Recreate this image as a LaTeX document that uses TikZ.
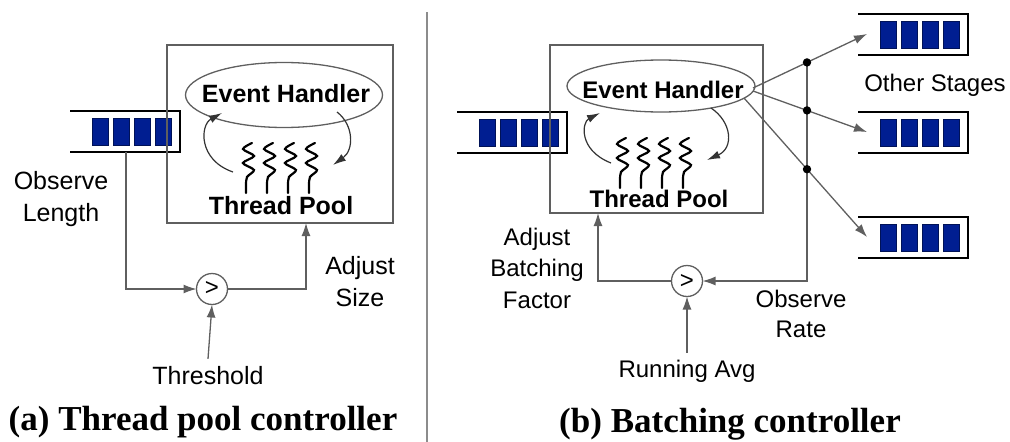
\documentclass[tikz,border=0pt]{standalone}
\usepackage{fontspec}
\setmainfont{Liberation Sans}
\newfontfamily\capfont{Liberation Serif}
\usetikzlibrary{arrows.meta,shapes.geometric,calc}
\definecolor{cellblue}{RGB}{0,30,145}
\definecolor{rulegray}{RGB}{95,95,95}

% one wavy thread: #1 = centre x, #2 = top y
\newcommand\threadline[2]{%
  \draw[threadln] plot[smooth, tension=0.5] coordinates {
    ({#1+3},{#2}) ({#1-6},{#2+6}) ({#1+5},{#2+13}) ({#1-6},{#2+20})
    ({#1+5},{#2+27}) ({#1-2},{#2+34}) ({#1-3},{#2+42}) ({#1-3},{#2+50})};}

\tikzset{
  every node/.style={inner sep=0pt, outer sep=0pt},
  lbl/.style={font=\fontsize{25}{32}\selectfont, align=center, anchor=base},
  lblb/.style={font=\fontsize{24}{31}\selectfont, align=center, anchor=base},
  boldtxt/.style={font=\bfseries\fontsize{25}{30}\selectfont},
  boldtxtb/.style={font=\bfseries\fontsize{24}{29}\selectfont},
  stagebox/.style={draw=rulegray, line width=1.3pt},
  handler/.style={ellipse, draw=rulegray, line width=1.3pt},
  cmp/.style={circle, draw=rulegray, line width=1.3pt, minimum size=31pt,
              font=\fontsize{24}{24}\selectfont},
  conn/.style={draw=rulegray, line width=1.3pt},
  arr/.style={-{Latex[length=13pt,width=9pt]}},
  threadln/.style={line width=2.2pt, line cap=round},
  loopar/.style={line width=1.2pt, draw=black!80, -{Latex[length=13pt,width=8pt]}},
  qline/.style={line width=2.2pt},
  qcell/.style={fill=cellblue, draw=cellblue!60!black, line width=0.8pt},
  captxt/.style={font=\capfont\bfseries\fontsize{35}{40}\selectfont, anchor=base},
  divider/.style={draw=black!45, line width=2pt},
  evq/.pic={
    \draw[qline] (0,0) -- (110,0) -- (110,41) -- (0,41);
    \foreach \i in {0,1,2,3}
      \filldraw[qcell] ({22+21*\i},7) rectangle ++(16,27);
    \coordinate (-in) at (9,20);
    \coordinate (-bot) at (56,41);
  }
}

\begin{document}
\begin{tikzpicture}[x=1pt,y=-1pt]
\useasboundingbox (0,0) rectangle (1010,442);

% ---------------- (a) thread pool controller ----------------
\pic (qa) at (70,111) {evq};
\node[stagebox, minimum width=226pt, minimum height=178pt] (boxa) at (280,134) {};
\node[handler, minimum width=197pt, minimum height=65pt] (eha) at (284,95) {};
\node[boldtxt] (ehat) at (286,94) {Event Handler};
\foreach \c in {249,270,291,312} {\threadline{\c}{143}}
\node[boldtxt] (tpa) at (281,206) {Thread Pool};

\coordinate (la1) at (233,172);
\coordinate (la2) at (222,113);
\coordinate (ra1) at (337,112);
\coordinate (ra2) at (333,165);
\draw[loopar] (la1) .. controls (198,160) and (200,125) .. (la2);
\draw[loopar] (ra1) .. controls (354,125) and (354,150) .. (ra2);

\node[cmp] (cmpa) at (212,289) {>};
\node[lbl, inner ysep=7pt] (thr) at (208,384) {Threshold};
\coordinate (adja) at (306,223);
\draw[conn, arr] (qa-bot) |- (cmpa.west);
\draw[conn, arr] (cmpa.east) -| (adja);
\draw[conn, arr] (thr.north) -- (cmpa.south);

\node[lbl] (obsl) at (61,221) {Observe\\Length};
\node[lbl] (adjs) at (360,306) {Adjust\\Size};
\node[captxt] (capa) at (203,430) {(a) Thread pool controller};

% separator
\coordinate (sep1) at (427,12);
\coordinate (sep2) at (427,442);
\draw[divider] (sep1) -- (sep2);

% ---------------- (b) batching controller ----------------
\pic (qb) at (457,112) {evq};
\node[stagebox, minimum width=213pt, minimum height=168pt] (boxb) at (656.5,129) {};
\node[handler, minimum width=188pt, minimum height=52pt] (ehb) at (661,86) {};
\node[boldtxtb] (ehbt) at (663,90) {Event Handler};
\foreach \c in {623,644,665,686} {\threadline{\c}{138}}
\node[boldtxtb] (tpb) at (659,199) {Thread Pool};

\coordinate (lb1) at (611,163);
\coordinate (lb2) at (600,113);
\coordinate (rb1) at (711,108);
\coordinate (rb2) at (707,160);
\draw[loopar] (lb1) .. controls (578,150) and (582,122) .. (lb2);
\draw[loopar] (rb1) .. controls (732,122) and (734,148) .. (rb2);

% downstream stages
\pic (q1) at (858,14) {evq};
\pic (q2) at (858,112) {evq};
\pic (q3) at (858,217) {evq};
\node[lblb] (other) at (935,91) {Other Stages};

\coordinate (s1) at (753,88);
\coordinate (s2) at (753,91);
\coordinate (s3) at (744,98);
\draw[conn, arr] (s1) -- (q1-in);
\draw[conn, arr] (s2) -- (q2-in);
\draw[conn, arr] (s3) -- (q3-in);
\coordinate (d1) at ($(s1)!{54/114}!(q1-in)$);
\coordinate (d2) at ($(s2)!{54/114}!(q2-in)$);
\coordinate (d3) at ($(s3)!{63/123}!(q3-in)$);

\node[cmp] (cmpb) at (687,281) {>};
\node[lblb, inner ysep=7pt] (ravg) at (687,377) {Running Avg};
\coordinate (adjb) at (598,213);
\draw[conn, arr] (d1) |- (cmpb.east);
\draw[conn, arr] (cmpb.west) -| (adjb);
\draw[conn, arr] (ravg.north) -- (cmpb.south);
\foreach \d in {d1,d2,d3} {\fill (\d) circle (4.2);}

\node[lblb, font=\fontsize{24}{31.5}\selectfont] (abf) at (537,308) {Adjust\\Batching\\Factor};
\node[lblb, font=\fontsize{24}{30}\selectfont] (obr) at (801,337) {Observe\\Rate};
\node[captxt] (capb) at (730,432) {(b) Batching controller};
\end{tikzpicture}
\end{document}
